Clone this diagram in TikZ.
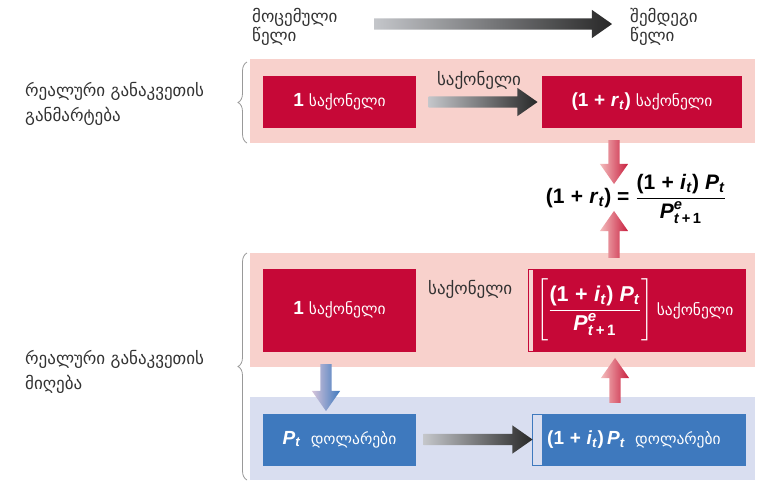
\documentclass[tikz,border=0pt]{standalone}
\usepackage{fontspec}
\usepackage{amsmath}
\setmainfont{Liberation Sans}
\newfontfamily\geofont{DejaVu Sans}
\usetikzlibrary{positioning,calc,shapes.arrows,decorations.pathreplacing}

\definecolor{crimson}{RGB}{198,8,55}
\definecolor{panelpink}{RGB}{248,209,204}
\definecolor{panelblue}{RGB}{217,222,240}
\definecolor{boxblue}{RGB}{62,121,190}
\definecolor{labelgray}{RGB}{50,50,50}
\definecolor{arrowlight}{RGB}{196,198,202}
\definecolor{arrowdark}{RGB}{40,40,40}
\definecolor{pinklight}{RGB}{244,190,190}
\definecolor{pinkdark}{RGB}{200,30,62}
\definecolor{bluelight}{RGB}{214,196,218}

\newcommand{\tsub}[1]{\textsubscript{\textit{#1}}}
\newcommand{\Pnext}{$\text{\textit{P}}^{\text{\textit{e}}}_{\text{\textit{t}\,+\,1}}$}
\newcommand{\plus}{\hspace{0.3em}+\hspace{0.3em}}
\newcommand{\boxmath}{\fontsize{19}{22}\selectfont\bfseries}
\newcommand{\eqmath}{\fontsize{21}{24}\selectfont\bfseries}
\newcommand{\georg}{\geofont\mdseries\upshape\fontsize{15.5}{18}\selectfont}

\tikzset{
  redbox/.style={fill=crimson, text=white, inner sep=0pt, outer sep=0pt},
  bluebox/.style={fill=boxblue, text=white, inner sep=0pt, outer sep=0pt},
  caption/.style={text=labelgray, font=\geofont\fontsize{17}{25}\selectfont, align=left, inner sep=0pt},
  fatarrow/.style={single arrow, single arrow head extend=8.5pt, single arrow tip angle=70,
    inner xsep=0pt, inner ysep=5.5pt, outer sep=0pt, minimum height=#1},
  grayarrow/.style={fatarrow=#1, left color=arrowlight, right color=arrowdark},
  pinkarrow/.style={fatarrow=#1, left color=pinklight, right color=pinkdark},
}

\begin{document}
\begin{tikzpicture}[x=1pt,y=-1pt]
    \useasboundingbox (0,0) rectangle (758,483);

    % time axis
    \node[caption, font=\geofont\fontsize{17}{19}\selectfont, anchor=west] (given) at (252,27) {მოცემული\\წელი};
    \node[caption, font=\geofont\fontsize{17}{19}\selectfont, anchor=west] (next) at (630,27) {შემდეგი\\წელი};
    \node[grayarrow=238pt] (years) at (489,24) {};

    % panels
    \fill[panelpink] (250,59) rectangle (755,143);
    \fill[panelpink] (250,253) rectangle (755,367);
    \fill[panelblue] (250,397) rectangle (755,480);

    % braces and their labels
    \draw[gray!80, line width=0.8pt, decorate, decoration={brace, amplitude=9pt}] (247,143) -- (247,62);
    \draw[gray!80, line width=0.8pt, decorate, decoration={brace, amplitude=9pt}] (247,480) -- (247,253);
    \node[caption, anchor=west] (deflabel) at (25,104) {რეალური განაკვეთის\\განმარტება};
    \node[caption, anchor=west] (derivlabel) at (25,372) {რეალური განაკვეთის\\მიღება};

    % definition row
    \node[redbox, minimum width=153pt, minimum height=52pt] (good1) at (339.5,102) {{\boxmath 1}\hspace{5pt}{\georg საქონელი}};
    \node[redbox, minimum width=200pt, minimum height=52pt] (good2) at (642,102) {{\boxmath (1\plus\textit{r}\tsub{t})}\enspace{\georg საქონელი}};
    \node[grayarrow=109pt] (swap1) at ($(good1.east)!0.5!(good2.west)$) {};
    \node[caption, above=7pt of swap1] (swap1lbl) {საქონელი};

    % equation
    \node[inner sep=0pt] (eq) at (636,199) {\eqmath
      $\text{(1\plus\textit{r}\tsub{t}) = }\genfrac{}{}{1pt}{0}{\text{(1\plus\textit{i}\tsub{t}) \textit{P}\tsub{t}}\rule[-5pt]{0pt}{5pt}}{\rule{0pt}{17pt}\text{\Pnext}}$};
    \node[pinkarrow=44pt, rotate=-90] (down1) at (614,158) {};
    \node[pinkarrow=47pt, rotate=90] (up1) at (614,238.5) {};

    % derivation row
    \node[redbox, minimum width=153pt, minimum height=83pt] (good3) at (339.5,310) {{\boxmath 1}\hspace{5pt}{\georg საქონელი}};
    \node[redbox, minimum width=218pt, minimum height=83pt] (good4) at (637,310) {};
    \fill[pinklight!70] ($(good4.north west)+(1,1)$) rectangle ($(good4.south west)+(5,-1)$);
    \node[text=white, anchor=west, inner sep=0pt] (good4txt) at ($(good4.west)+(8,0)$) {\fontsize{21.5}{24}\selectfont\bfseries
      $\left[\genfrac{}{}{1pt}{0}{\rule{0pt}{15pt}\text{(1\plus\textit{i}\tsub{t}) \textit{P}\tsub{t}}\rule[-4pt]{0pt}{4pt}}{\rule{0pt}{17pt}\text{\Pnext}\rule[-8pt]{0pt}{8pt}}\right]$\,{\georg საქონელი}};
    \node[caption, anchor=west] (swap2lbl) at (428,289) {საქონელი};

    % dollar row
    \node[bluebox, minimum width=153pt, minimum height=52pt] (cash1) at (339.5,439.5) {{\boxmath\textit{P}\tsub{t}}\quad{\georg დოლარები}};
    \node[bluebox, minimum width=214pt, minimum height=52pt] (cash2) at (639,439.5) {};
    \fill[panelblue] ($(cash2.north west)+(1,1)$) rectangle ($(cash2.south west)+(10,-1)$);
    \node[text=white, anchor=west, inner sep=0pt] (cash2txt) at ($(cash2.west)+(15,0)$) {{\boxmath (1\plus\textit{i}\tsub{t})\,\textit{P}\tsub{t}}\quad{\georg დოლარები}};
    \node[grayarrow=109pt] (swap3) at ($(cash1.east)!0.5!(cash2.west)$) {};

    % vertical links
    \node[fatarrow=47pt, rotate=-90, left color=bluelight, right color=boxblue] (down2) at (326,383.5) {};
    \node[pinkarrow=45pt, rotate=90] (up2) at (615,384.5) {};
\end{tikzpicture}
\end{document}
